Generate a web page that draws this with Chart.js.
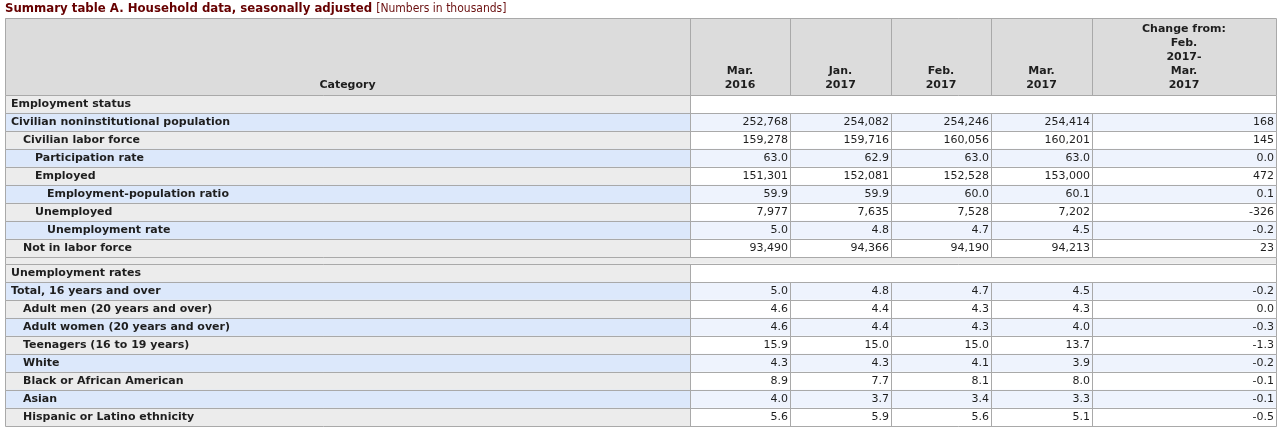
<!DOCTYPE html>
<html>
<head>
<meta charset="utf-8">
<script src="https://cdn.jsdelivr.net/npm/chart.js@4.4.1/dist/chart.umd.min.js"></script>
<style>
  html, body { margin: 0; padding: 0; background: #fff; }
  #wrap { position: relative; width: 1280px; height: 428px; overflow: hidden; }
  #title { position: absolute; left: 5px; top: 1px; line-height: 15px; white-space: nowrap;
           font: bold 11.75px "DejaVu Sans", sans-serif; color: #660000; }
  #title span { font: 12px "DejaVu Sans Condensed", "DejaVu Sans", sans-serif; color: #6b1010; }
  canvas { position: absolute; left: 0; top: 0; }
</style>
</head>
<body>
<div id="wrap">
  <canvas id="table" width="1280" height="428"></canvas>
  <div id="title">Summary table A. Household data, seasonally adjusted <span>[Numbers in thousands]</span></div>
</div>
<script>
// rows of the table
const categories = [
  'Employment status',
  'Civilian noninstitutional population',
  'Civilian labor force',
  'Participation rate',
  'Employed',
  'Employment-population ratio',
  'Unemployed',
  'Unemployment rate',
  'Not in labor force',
  'Unemployment rates',
  'Total, 16 years and over',
  'Adult men (20 years and over)',
  'Adult women (20 years and over)',
  'Teenagers (16 to 19 years)',
  'White',
  'Black or African American',
  'Asian',
  'Hispanic or Latino ethnicity'
];
const levels = [0, 0, 1, 2, 2, 3, 2, 3, 1, 0, 0, 1, 1, 1, 1, 1, 1, 1];
const sections = [0, 9];   // rows that are section headings

const columns = [
  ['Category'],
  ['Mar.', '2016'],
  ['Jan.', '2017'],
  ['Feb.', '2017'],
  ['Mar.', '2017'],
  ['Change from:', 'Feb.', '2017-', 'Mar.', '2017']
];

const mar2016 = [null, 252768, 159278, 63.0, 151301, 59.9, 7977, 5.0, 93490,
                 null, 5.0, 4.6, 4.6, 15.9, 4.3, 8.9, 4.0, 5.6];
const jan2017 = [null, 254082, 159716, 62.9, 152081, 59.9, 7635, 4.8, 94366,
                 null, 4.8, 4.4, 4.4, 15.0, 4.3, 7.7, 3.7, 5.9];
const feb2017 = [null, 254246, 160056, 63.0, 152528, 60.0, 7528, 4.7, 94190,
                 null, 4.7, 4.3, 4.3, 15.0, 4.1, 8.1, 3.4, 5.6];
const mar2017 = [null, 254414, 160201, 63.0, 153000, 60.1, 7202, 4.5, 94213,
                 null, 4.5, 4.3, 4.0, 13.7, 3.9, 8.0, 3.3, 5.1];
const change  = [null, 168, 145, 0.0, 472, 0.1, -326, -0.2, 23,
                 null, -0.2, 0.0, -0.3, -1.3, -0.2, -0.1, -0.1, -0.5];
const decimals = [0, 0, 0, 1, 0, 1, 0, 1, 0, 0, 1, 1, 1, 1, 1, 1, 1, 1];

// layout
const COL_W = [685, 100, 101, 100, 101, 184];
const HEADER_H = 77;
const SPACER = 7 / 18;     // gap before a new section, in row units
const INDENT = 12;

const HEADER_BG = '#dcdcdc';
const CAT_GRAY = '#ececec';
const CAT_BLUE = '#dce8fb';
const CELL_BLUE = '#eef3fd';
const CELL_WHITE = '#ffffff';
const GRID = '#a9a9a9';
const TEXT = '#1e1e1e';
const CAT_FONT = 'bold 11px "DejaVu Sans", sans-serif';
const NUM_FONT = '11px "DejaVu Sans", sans-serif';

const edges = COL_W.reduce((a, w) => { a.push(a[a.length - 1] + w); return a; }, [0]);
const TABLE_W = edges[edges.length - 1];
const centers = COL_W.map((w, i) => edges[i] + w / 2);

const rowTop = [];
let acc = 0;
categories.forEach((c, i) => {
  if (i > 0 && sections.includes(i)) acc += SPACER;
  rowTop.push(acc);
  acc += 1;
});
const TOTAL = acc;

function isBlue(i) {
  let s = 0;
  sections.forEach(r => { if (r <= i) s = r; });
  return (i - s) % 2 === 1;
}

function fmt(v, d) {
  return d ? v.toFixed(d) : v.toLocaleString('en-US');
}

const catSet = {
  label: 'Category',
  labels: categories,
  data: categories.map((c, i) => ({ y: rowTop[i] + 0.5, x: [edges[0], edges[1]], row: i })),
  backgroundColor: ctx => (ctx.raw && isBlue(ctx.raw.row)) ? CAT_BLUE : CAT_GRAY
};

const sectionSet = {
  label: 'section',
  data: sections.map(i => ({ y: rowTop[i] + 0.5, x: [edges[1], TABLE_W], row: i })),
  backgroundColor: CELL_WHITE
};

const series = [mar2016, jan2017, feb2017, mar2017, change];
const valueSets = series.map((vals, k) => ({
  label: columns[k + 1].join(' '),
  values: vals,
  data: vals.map((v, i) => v == null ? null :
    ({ y: rowTop[i] + 0.5, x: [edges[k + 1], edges[k + 2]], row: i })).filter(Boolean),
  backgroundColor: ctx => (ctx.raw && isBlue(ctx.raw.row)) ? CELL_BLUE : CELL_WHITE
}));

const tablePlugin = {
  id: 'tableCells',
  beforeDraw(chart) {
    const { ctx, chartArea: a } = chart;
    ctx.save();
    ctx.fillStyle = HEADER_BG;
    ctx.fillRect(a.left, a.top - HEADER_H, a.right - a.left, HEADER_H);
    ctx.fillStyle = CAT_GRAY;
    ctx.fillRect(a.left, a.top, a.right - a.left, a.bottom - a.top);
    ctx.restore();
  },
  afterDatasetsDraw(chart) {
    const { ctx, chartArea: a, scales: { x, y } } = chart;
    const px = v => Math.round(x.getPixelForValue(v)) + 0.5;
    const py = v => Math.round(y.getPixelForValue(v)) + 0.5;
    const line = (x0, y0, x1, y1) => { ctx.moveTo(x0, y0); ctx.lineTo(x1, y1); };

    ctx.save();
    ctx.strokeStyle = GRID;
    ctx.lineWidth = 1;
    ctx.beginPath();
    const hTop = Math.round(a.top - HEADER_H) + 0.5;
    line(px(0), hTop, px(TABLE_W), hTop);
    edges.forEach(e => line(px(e), hTop, px(e), py(0)));
    categories.forEach((c, i) => {
      const t = py(rowTop[i]), b = py(rowTop[i] + 1);
      line(px(0), t, px(TABLE_W), t);
      line(px(0), b, px(TABLE_W), b);
      const cuts = sections.includes(i) ? [0, edges[1], TABLE_W] : edges;
      cuts.forEach(e => line(px(e), t, px(e), b));
      if (i > 0 && sections.includes(i)) {
        line(px(0), py(rowTop[i] - SPACER), px(0), t);
        line(px(TABLE_W), py(rowTop[i] - SPACER), px(TABLE_W), t);
      }
    });
    ctx.stroke();

    ctx.textBaseline = 'middle';
    ctx.fillStyle = TEXT;
    chart.data.datasets.forEach((ds, d) => {
      if (!ds.labels && !ds.values) return;
      const meta = chart.getDatasetMeta(d);
      meta.data.forEach((el, j) => {
        const row = ds.data[j].row;
        const left = Math.min(el.x, el.base), right = Math.max(el.x, el.base);
        if (ds.labels) {
          ctx.font = CAT_FONT;
          ctx.textAlign = 'left';
          ctx.fillText(ds.labels[row], left + 6 + levels[row] * INDENT, el.y + 0.5);
        } else {
          ctx.font = NUM_FONT;
          ctx.textAlign = 'right';
          ctx.fillText(fmt(ds.values[row], decimals[row]), right - 2, el.y + 0.5);
        }
      });
    });
    ctx.restore();
  }
};

new Chart(document.getElementById('table'), {
  type: 'bar',
  data: { datasets: [catSet, sectionSet, ...valueSets] },
  options: {
    indexAxis: 'y',
    responsive: false,
    animation: false,
    events: [],
    layout: { padding: { top: 18, left: 5, right: 4, bottom: 2 } },
    datasets: {
      bar: { grouped: false, barPercentage: 1, categoryPercentage: 1, borderWidth: 0 }
    },
    scales: {
      x: {
        type: 'linear',
        position: 'top',
        min: 0,
        max: TABLE_W,
        offset: false,
        grid: { display: false },
        border: { display: false },
        afterBuildTicks: s => { s.ticks = centers.map(v => ({ value: v })); },
        afterFit: s => { s.height = HEADER_H; },
        ticks: {
          autoSkip: false,
          maxRotation: 0,
          padding: -5,
          color: TEXT,
          font: { family: '"DejaVu Sans", sans-serif', size: 11, weight: 'bold', lineHeight: '14px' },
          callback: (v, i) => columns[i]
        }
      },
      y: {
        type: 'linear',
        reverse: true,
        min: 0,
        max: TOTAL,
        offset: false,
        display: false,
        afterBuildTicks: s => { s.ticks = rowTop.map(t => ({ value: t + 0.5 })); }
      }
    },
    plugins: {
      legend: { display: false },
      tooltip: { enabled: false },
      title: { display: false }
    }
  },
  plugins: [tablePlugin]
});
</script>
</body>
</html>
